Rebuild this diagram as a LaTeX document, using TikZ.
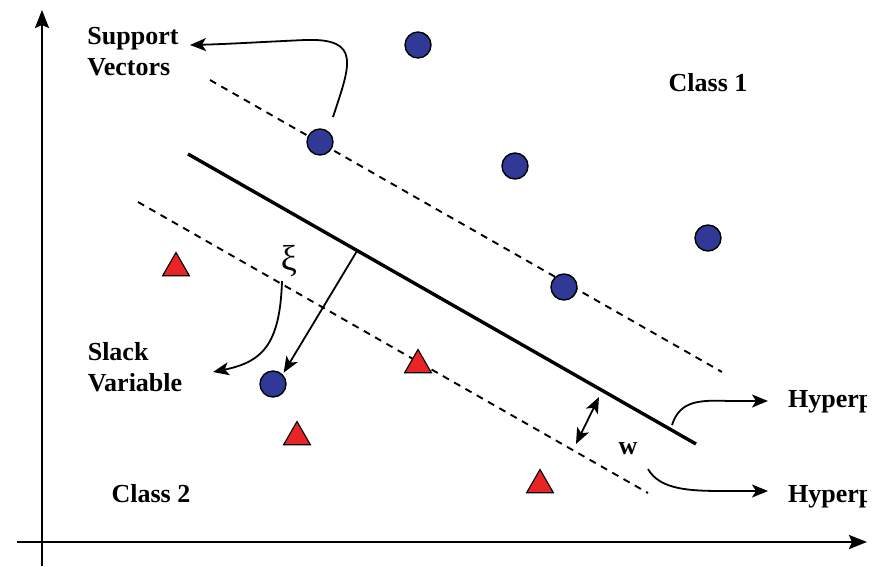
\documentclass[tikz,border=0pt]{standalone}
\usepackage{fontspec}
\setmainfont{Liberation Serif}
\usetikzlibrary{arrows.meta,shapes.geometric}
\definecolor{ptblue}{RGB}{48,58,150}
\definecolor{ptred}{RGB}{232,36,36}
\tikzset{
  lbl/.style={inner sep=0pt, font=\fontsize{26}{31}\selectfont\bfseries},
  bluept/.style={circle, draw=black, line width=1.4pt, fill=ptblue, minimum size=26pt, inner sep=0pt},
  redpt/.style={regular polygon, regular polygon sides=3, draw=black, line width=1.1pt, fill=ptred, minimum size=31pt, inner sep=0pt},
  axis/.style={line width=2.6pt, -{Stealth[length=18pt,width=14pt,inset=3pt]}},
  hyper/.style={line width=3.4pt},
  margin/.style={line width=1.9pt, dash pattern=on 7pt off 6pt},
  conn/.style={line width=1.8pt, -{Stealth[length=16pt,width=13pt,inset=4pt]}},
  dconn/.style={line width=1.8pt, {Stealth[length=16pt,width=13pt,inset=4pt]}-{Stealth[length=16pt,width=13pt,inset=4pt]}}
}
\begin{document}
\begin{tikzpicture}[x=1pt,y=-1pt]
\useasboundingbox (0,0) rectangle (889,566);
% axes
\coordinate (yb) at (42,566);
\coordinate (yt) at (42,10);
\coordinate (xl) at (17,542);
\coordinate (xr) at (867,542);
\draw[axis] (yb) -- (yt);
\draw[axis] (xl) -- (xr);
% hyperplane and margins
\coordinate (h1) at (188,154);
\coordinate (h2) at (696,444);
\coordinate (u1) at (210,80);
\coordinate (u2) at (722,372);
\coordinate (l1) at (138,202);
\coordinate (l2) at (648,493);
\draw[margin] (u1) -- (u2);
\draw[margin] (l1) -- (l2);
\draw[hyper] (h1) -- (h2);
% points
\node[bluept] (c1) at (418,45) {};
\node[bluept] (c2) at (320,142) {};
\node[bluept] (c3) at (515,166) {};
\node[bluept] (c4) at (708,238) {};
\node[bluept] (c5) at (564,287) {};
\node[bluept] (c6) at (273,384) {};
\node[redpt] (t1) at (176,268) {};
\node[redpt] (t2) at (418,365) {};
\node[redpt] (t3) at (297,437) {};
\node[redpt] (t4) at (540,485) {};
% labels
\node[lbl, align=left] (sv) at (133,52) {Support\\Vectors};
\node[lbl, align=left] (sl) at (135,367) {Slack\\Variable};
\node[lbl] (cl1) at (708,83) {Class 1};
\node[lbl] (cl2) at (151,494) {Class 2};
\node[lbl] (wl) at (628,449) {w};
\node[inner sep=0pt, font=\fontsize{36}{36}\selectfont] (xi) at (289,261) {ξ};
\begin{scope}
\clip (0,0) rectangle (866,566);
\node[lbl, anchor=west] (hp1) at (788,401) {Hyperplane};
\node[lbl, anchor=west] (hp2) at (788,496) {Hyperplane};
\end{scope}
% connectors
\coordinate (np) at (357,251);
\draw[conn, shorten >=2pt] (np) -- (c6.north east);
\coordinate (svs) at (333,117);
\coordinate (sve) at (190,45);
\draw[conn] (svs) .. controls (350,65) and (362,38) .. (305,40) .. controls (260,42) and (230,44) .. (sve);
\coordinate (xis) at (282,281);
\coordinate (sle) at (213,372);
\draw[conn] (xis) .. controls (280,345) and (262,362) .. (sle);
\coordinate (w1) at (599,397);
\coordinate (w2) at (576,444);
\draw[dconn] (w1) -- (w2);
\coordinate (hs1) at (672,425);
\coordinate (he1) at (768,401);
\draw[conn] (hs1) .. controls (680,400) and (700,400) .. (730,401) -- (he1);
\coordinate (hs2) at (648,469);
\coordinate (he2) at (768,491);
\draw[conn] (hs2) .. controls (660,490) and (690,491) .. (725,491) -- (he2);
\end{tikzpicture}
\end{document}
